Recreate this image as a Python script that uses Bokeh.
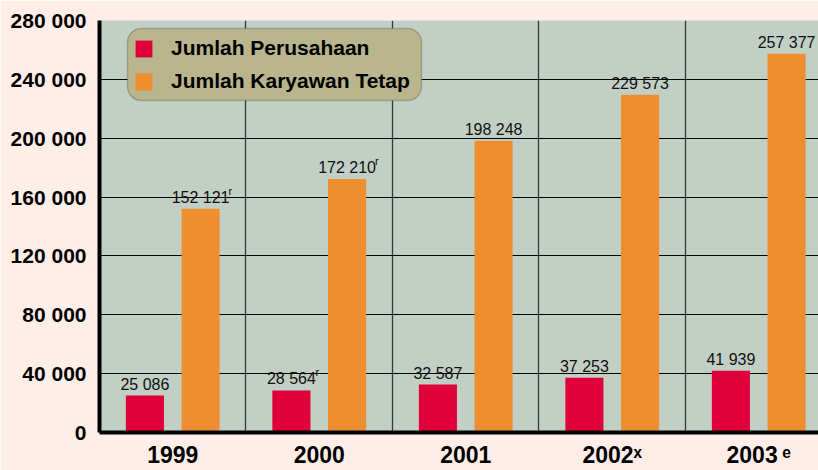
from bokeh.plotting import figure
from bokeh.models import (ColumnDataSource, FixedTicker, Range1d, Legend, LegendItem,
                          BoxAnnotation)
from bokeh.core.properties import value
from bokeh.embed import file_html
from bokeh.resources import INLINE

years = ["1999", "2000", "2001", "2002", "2003"]
year_sup = ["", "", "", "\u02e3", "\u2009\u1d49"]
perusahaan = [25086, 28564, 32587, 37253, 41939]
perusahaan_sup = ["", "r", "", "", ""]
karyawan = [152121, 172210, 198248, 229573, 257377]
karyawan_sup = ["r", "r", "", "", ""]
y_ticks = [0, 40000, 80000, 120000, 160000, 200000, 240000, 280000]
y_tick_labels = ["0", "40 000", "80 000", "120 000", "160 000", "200 000", "240 000", "280 000"]

RED = "#E0003A"
ORANGE = "#EF8E30"
PAGE_BG = "#FFEEE7"
PLOT_BG = "#C2CFC4"

def fmt(v):
    return f"{v:,}".replace(",", " ")

centers = [i + 0.5 for i in range(len(years))]
off = 0.19
bw = 0.26
src = ColumnDataSource(dict(
    xr=[c - off for c in centers], xo=[c + off for c in centers],
    yr=perusahaan, yo=karyawan,
    tr=[fmt(v) for v in perusahaan], to=[fmt(v) for v in karyawan],
    sr=perusahaan_sup, so=karyawan_sup,
))

p = figure(width=818, height=470, output_backend="svg", toolbar_location=None,
           x_range=Range1d(0, 4.908), y_range=Range1d(0, 280000),
           min_border_left=99, min_border_right=0, min_border_top=20, min_border_bottom=38)
p.background_fill_color = PLOT_BG
p.border_fill_color = PAGE_BG
p.outline_line_color = None

# grid
p.ygrid.ticker = FixedTicker(ticks=y_ticks)
p.ygrid.grid_line_color = "black"
p.ygrid.grid_line_width = 1
p.xgrid.ticker = FixedTicker(ticks=[1, 2, 3, 4])
p.xgrid.grid_line_color = "#3a3a3a"
p.xgrid.grid_line_width = 1.3

# y axis
p.yaxis.ticker = FixedTicker(ticks=y_ticks)
p.yaxis.major_label_overrides = {t: l for t, l in zip(y_ticks, y_tick_labels)}
p.yaxis.major_label_text_font = "Liberation Sans"
p.yaxis.major_label_text_font_style = "bold"
p.yaxis.major_label_text_font_size = "21px"
p.yaxis.major_label_text_color = "black"
p.yaxis.major_tick_line_color = None
p.yaxis.minor_tick_line_color = None
p.yaxis.major_tick_out = 0
p.yaxis.major_label_standoff = 13
p.yaxis.axis_line_width = 4
p.yaxis.axis_line_color = "black"

# x axis with year labels
p.xaxis.ticker = FixedTicker(ticks=centers)
p.xaxis.major_label_overrides = {c: y + s for c, y, s in zip(centers, years, year_sup)}
p.xaxis.major_label_text_font = "Liberation Sans"
p.xaxis.major_label_text_font_style = "bold"
p.xaxis.major_label_text_font_size = "23px"
p.xaxis.major_label_text_color = "black"
p.xaxis.major_tick_line_color = None
p.xaxis.minor_tick_line_color = None
p.xaxis.major_tick_out = 0
p.xaxis.major_tick_in = 0
p.xaxis.major_label_standoff = 9
p.xaxis.axis_line_width = 4
p.xaxis.axis_line_color = "black"

r1 = p.vbar(x="xr", top="yr", width=bw, bottom=0, source=src, fill_color=RED, line_color=None)
r2 = p.vbar(x="xo", top="yo", width=bw, bottom=0, source=src, fill_color=ORANGE, line_color=None)

lab_kw = dict(text_font=value("Liberation Sans"), text_font_size="16px", text_color="#111111",
              text_align="center", text_baseline="bottom", y_offset=-3)
p.text(x="xr", y="yr", text="tr", source=src, **lab_kw)
p.text(x="xo", y="yo", text="to", source=src, **lab_kw)
sup_kw = dict(text_font=value("Liberation Sans"), text_font_size="11px", text_color="#111111",
              text_align="left", text_baseline="bottom", y_offset=-12)
p.text(x="xr", y="yr", text="sr", source=src, x_offset=24, **sup_kw)
p.text(x="xo", y="yo", text="so", source=src, x_offset=28, **sup_kw)

# legend box
px_per_unit = 280000 / 412
cat_px = 146.5
box = BoxAnnotation(left=(127 - 99) / cat_px, right=(421 - 99) / cat_px,
                    top=(432 - 28) * px_per_unit, bottom=(432 - 100) * px_per_unit,
                    fill_color="#B9B58C", fill_alpha=1, line_color="#4a4a4a", line_width=1.5,
                    border_radius=14, level="annotation")
p.add_layout(box)

legend = Legend(items=[LegendItem(label="Jumlah Perusahaan", renderers=[r1]),
                       LegendItem(label="Jumlah Karyawan Tetap", renderers=[r2])],
                location=(34, 339), orientation="vertical",
                background_fill_alpha=0, border_line_color=None,
                padding=8, margin=0, spacing=9,
                glyph_width=21, glyph_height=21, label_height=21, label_standoff=17,
                label_text_font="Liberation Sans", label_text_font_style="bold",
                label_text_font_size="21px", label_text_color="black")
p.add_layout(legend)

open("out.html", "w").write(file_html(p, INLINE))
